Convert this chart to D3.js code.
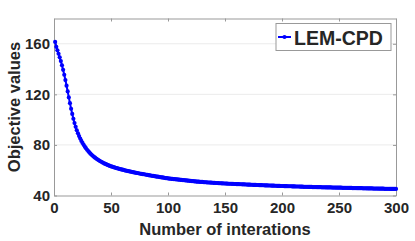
<!DOCTYPE html>
<head>
  <meta charset="utf-8">
  <script src="https://d3js.org/d3.v7.min.js"></script>
  <style>
    body { margin:0; background:#fff; }
    text { font-family: "Liberation Sans", Arial, sans-serif; font-weight: bold; fill:#262626; }
  </style>
</head>

<body>
  <script>

    var width = 415,
        height = 241;

    // objective value at each iteration (1..300)
    var objective = [
      161.5, 157.6, 154.8, 152.1, 149.3, 146.3, 143.0, 139.4, 135.5, 131.3,
      126.9, 122.3, 117.6, 113.0, 108.6, 104.5, 100.7, 97.3, 94.3, 91.6,
      89.2, 87.0, 85.0, 83.2, 81.6, 80.1, 78.7, 77.4, 76.2, 75.1,
      74.1, 73.1, 72.2, 71.4, 70.6, 69.9, 69.2, 68.6, 68.0, 67.4,
      66.9, 66.4, 65.9, 65.4, 65.0, 64.6, 64.2, 63.8, 63.4, 63.1,
      62.8, 62.5, 62.2, 61.9, 61.7, 61.4, 61.1, 60.9, 60.6, 60.4,
      60.2, 59.9, 59.7, 59.5, 59.3, 59.1, 58.9, 58.7, 58.5, 58.3,
      58.1, 57.9, 57.8, 57.6, 57.4, 57.2, 57.1, 56.9, 56.8, 56.6,
      56.4, 56.3, 56.1, 55.9, 55.8, 55.6, 55.5, 55.3, 55.2, 55.0,
      54.9, 54.8, 54.6, 54.4, 54.3, 54.1, 54.0, 53.8, 53.7, 53.5,
      53.4, 53.3, 53.2, 53.1, 53.0, 52.9, 52.8, 52.7, 52.6, 52.5,
      52.4, 52.3, 52.2, 52.1, 52.0, 51.9, 51.8, 51.7, 51.6, 51.5,
      51.4, 51.3, 51.2, 51.1, 51.0, 50.9, 50.9, 50.8, 50.7, 50.7,
      50.6, 50.5, 50.5, 50.4, 50.3, 50.3, 50.2, 50.2, 50.1, 50.0,
      50.0, 49.9, 49.9, 49.8, 49.7, 49.7, 49.6, 49.6, 49.5, 49.5,
      49.4, 49.4, 49.3, 49.3, 49.3, 49.2, 49.2, 49.1, 49.1, 49.0,
      49.0, 49.0, 48.9, 48.9, 48.8, 48.8, 48.8, 48.7, 48.7, 48.6,
      48.6, 48.6, 48.5, 48.5, 48.4, 48.4, 48.4, 48.3, 48.3, 48.2,
      48.2, 48.2, 48.1, 48.1, 48.0, 48.0, 48.0, 47.9, 47.9, 47.9,
      47.8, 47.8, 47.8, 47.7, 47.7, 47.6, 47.6, 47.6, 47.5, 47.5,
      47.5, 47.4, 47.4, 47.4, 47.3, 47.3, 47.3, 47.3, 47.2, 47.2,
      47.2, 47.1, 47.1, 47.1, 47.1, 47.0, 47.0, 47.0, 46.9, 46.9,
      46.9, 46.9, 46.8, 46.8, 46.8, 46.8, 46.7, 46.7, 46.7, 46.7,
      46.6, 46.6, 46.6, 46.6, 46.5, 46.5, 46.5, 46.5, 46.4, 46.4,
      46.4, 46.4, 46.4, 46.3, 46.3, 46.3, 46.3, 46.2, 46.2, 46.2,
      46.2, 46.2, 46.1, 46.1, 46.1, 46.1, 46.0, 46.0, 46.0, 46.0,
      46.0, 45.9, 45.9, 45.9, 45.9, 45.8, 45.8, 45.8, 45.8, 45.8,
      45.7, 45.7, 45.7, 45.7, 45.6, 45.6, 45.6, 45.6, 45.6, 45.5,
      45.5, 45.5, 45.5, 45.5, 45.4, 45.4, 45.4, 45.4, 45.4, 45.3,
      45.3, 45.3, 45.3, 45.3, 45.2, 45.2, 45.2, 45.2, 45.2, 45.2
    ];
    var iterations = objective.map(function(d, i) { return i + 1; });

    var xTicks = [0, 50, 100, 150, 200, 250, 300];
    var yTicks = [40, 80, 120, 160];
    var seriesName = "LEM-CPD";

    var pLeft = 54, pRight = 396, pTop = 18.5, pBottom = 195.5;

    var svg = d3.select("body").append("svg")
      .attr("width", width)
      .attr("height", height);

    var x = d3.scaleLinear().domain([0, 300]).range([pLeft, pRight]);
    var y = d3.scaleLinear().domain([40, 180]).range([pBottom, pTop]);

    // horizontal grid
    svg.selectAll("line.grid").data(yTicks.slice(1)).enter()
      .append("line")
      .attr("class", "grid")
      .attr("x1", pLeft).attr("x2", pRight)
      .attr("y1", function(d) { return y(d); })
      .attr("y2", function(d) { return y(d); })
      .attr("stroke", "#ebebeb");

    var axisColor = "#999";

    var xAxis = svg.append("g")
      .attr("transform", "translate(0," + pBottom + ")")
      .call(d3.axisBottom(x).tickValues(xTicks).tickSizeInner(-3).tickSizeOuter(0).tickPadding(7));
    var yAxis = svg.append("g")
      .attr("transform", "translate(" + pLeft + ",0)")
      .call(d3.axisLeft(y).tickValues(yTicks).tickSizeInner(-3).tickSizeOuter(0).tickPadding(4));
    var xTop = svg.append("g")
      .attr("transform", "translate(0," + pTop + ")")
      .call(d3.axisTop(x).tickValues(xTicks).tickSizeInner(-3).tickSizeOuter(0).tickFormat(""));
    var yRight = svg.append("g")
      .attr("transform", "translate(" + pRight + ",0)")
      .call(d3.axisRight(y).tickValues(yTicks).tickSizeInner(-3).tickSizeOuter(0).tickFormat(""));

    [xAxis, yAxis, xTop, yRight].forEach(function(g) {
      g.selectAll("path, line").attr("stroke", axisColor);
      g.selectAll("text").attr("font-size", 15).attr("fill", "#262626")
        .style("font-family", "'Liberation Sans', Arial, sans-serif").style("font-weight", "bold");
    });

    var line = d3.line()
      .x(function(d, i) { return x(iterations[i]); })
      .y(function(d) { return y(d); });

    svg.append("path")
      .datum(objective)
      .attr("d", line)
      .attr("fill", "none")
      .attr("stroke", "#0000ff")
      .attr("stroke-width", 2);

    svg.selectAll("circle.pt").data(objective).enter()
      .append("circle")
      .attr("class", "pt")
      .attr("cx", function(d, i) { return x(iterations[i]); })
      .attr("cy", function(d) { return y(d); })
      .attr("r", 2.1)
      .attr("fill", "#0000ff");

    // axis titles
    svg.append("text")
      .attr("x", (pLeft + pRight) / 2)
      .attr("y", 235)
      .attr("text-anchor", "middle")
      .attr("font-size", 16.5)
      .text("Number of interations");

    svg.append("text")
      .attr("transform", "translate(20," + (pTop + pBottom) / 2 + ") rotate(-90)")
      .attr("text-anchor", "middle")
      .attr("font-size", 16.5)
      .text("Objective values");

    // legend
    var lg = svg.append("g").attr("transform", "translate(276,23.5)");
    lg.append("rect")
      .attr("width", 115).attr("height", 27)
      .attr("fill", "#fff").attr("stroke", axisColor);
    lg.append("line")
      .attr("x1", 2).attr("x2", 15).attr("y1", 13.5).attr("y2", 13.5)
      .attr("stroke", "#0000ff").attr("stroke-width", 2);
    lg.append("circle")
      .attr("cx", 8.5).attr("cy", 13.5).attr("r", 2.1).attr("fill", "#0000ff");
    lg.append("text")
      .attr("x", 18).attr("y", 21)
      .attr("font-size", 19.5)
      .attr("fill", "#000")
      .text(seriesName);

  </script>
</body>
